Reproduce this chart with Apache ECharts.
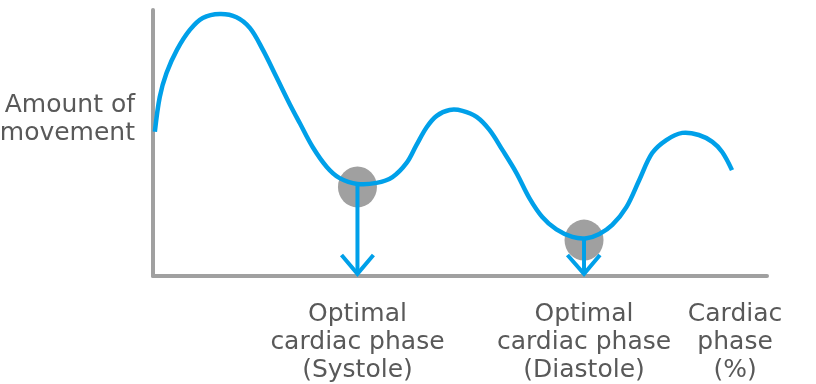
<!DOCTYPE html>
<html>
<head>
<meta charset="utf-8">
<script src="https://cdn.jsdelivr.net/npm/echarts@6/dist/echarts.min.js"></script>
<style>
  html, body { margin: 0; padding: 0; background: #fff; }
  #chart { width: 816px; height: 384px; }
</style>
</head>
<body>
<div id="chart"></div>
<script>
// cardiac phase (%) vs amount of movement (arbitrary units)
const phase = [0.3, 1.1, 2.2, 3.9, 6.0, 8.1, 10.9, 13.6, 15.8, 17.9, 20.1, 22.3, 23.9, 26.0, 28.3, 30.4, 33.3, 36.4, 39.0, 41.3, 42.9, 44.6, 46.2, 48.3, 50.4, 52.7, 54.8, 56.9, 59.2, 61.3, 63.4, 65.7, 68.3, 70.6, 72.7, 74.8, 77.1, 79.2, 81.3, 83.6, 86.2, 88.9, 91.1, 92.7, 94.3];
const movement = [54.2, 67.3, 76.3, 85.0, 92.5, 97.0, 98.5, 97.3, 93.2, 85.0, 74.8, 64.5, 57.5, 48.5, 41.0, 36.8, 34.6, 35.0, 37.2, 42.5, 49.2, 56.0, 60.2, 62.4, 62.1, 59.8, 54.9, 47.4, 38.7, 29.3, 22.2, 17.5, 14.7, 14.2, 15.8, 19.2, 25.9, 36.1, 46.2, 51.1, 53.8, 53.0, 50.4, 46.6, 39.8];

// optimal phases (grey blobs) and the arrows dropping to the axis
const optimalPhase = [33.3, 70.2];
const optimalMovement = [33.5, 13.5];
const arrowTop = [34.8, 14.5];
const arrowTip = [0.8, 0.8];
const wingLeft = [30.7, 67.5];
const wingRight = [35.9, 72.8];
const wingY = [7.9, 7.9];

const labelPhase = [33.3, 70.2, 94.8];
const labelText = ['Optimal\ncardiac phase\n(Systole)', 'Optimal\ncardiac phase\n(Diastole)', 'Cardiac\nphase\n(%)'];
const yName = 'Amount of\nmovement';

const blue = '#00a0e9';
const grey = '#a0a0a0';
const textColor = '#595959';
const font = 'DejaVu Sans';

let myChart = echarts.init(document.getElementById('chart'));

const curve = phase.map((p, i) => [p, movement[i]]);
const blobs = optimalPhase.map((p, i) => [p, optimalMovement[i]]);
const arrows = [];
optimalPhase.forEach((p, i) => {
    arrows.push({coords: [[p, arrowTop[i]], [p, arrowTip[i]]]});
    arrows.push({coords: [[wingLeft[i], wingY[i]], [p, arrowTip[i]], [wingRight[i], wingY[i]]]});
});

// the line series clamps its bezier handles per segment, which leaves corners,
// so the curve is drawn as one smoothed polyline through the same points
function renderCurve(params, api) {
    if (params.dataIndex !== 0) return null;
    const pts = curve.map(d => api.coord(d));
    return {
        type: 'polyline',
        shape: {points: pts, smooth: 0.35},
        style: {stroke: blue, lineWidth: 4.5, fill: null, lineCap: 'butt', lineJoin: 'round'}
    };
}

const option = {
    animation: false,
    grid: {
        left: 153,
        right: 49,
        top: 10,
        bottom: 108
    },
    xAxis: {
        type: 'value',
        min: 0,
        max: 100,
        splitLine: {show: false},
        axisTick: {show: false},
        axisLine: {lineStyle: {color: grey, width: 4}},
        axisLabel: {
            customValues: labelPhase,
            formatter: function (v) {
                const i = labelPhase.indexOf(v);
                return i >= 0 ? labelText[i] : '';
            },
            margin: 24,
            fontFamily: font,
            fontSize: 25,
            lineHeight: 28,
            color: textColor,
            align: 'center'
        }
    },
    yAxis: {
        type: 'value',
        min: 0,
        max: 100,
        splitLine: {show: false},
        axisTick: {show: false},
        axisLabel: {show: false},
        axisLine: {show: true, lineStyle: {color: grey, width: 4}}
    },
    graphic: {
        elements: [{
            type: 'text',
            x: 135,
            y: 119,
            style: {
                text: yName,
                align: 'right',
                verticalAlign: 'middle',
                font: '25px "' + font + '"',
                lineHeight: 28,
                fill: textColor
            }
        }]
    },
    series: [{
        type: 'scatter',
        data: blobs,
        symbol: 'circle',
        symbolSize: [39, 41],
        itemStyle: {color: grey, opacity: 1},
        z: 1
    }, {
        type: 'custom',
        data: curve,
        renderItem: renderCurve,
        z: 3
    }, {
        type: 'lines',
        coordinateSystem: 'cartesian2d',
        polyline: true,
        data: arrows,
        lineStyle: {color: blue, width: 4, opacity: 1, curveness: 0},
        z: 4
    }]
};

myChart.setOption(option);
</script>
</body>
</html>
